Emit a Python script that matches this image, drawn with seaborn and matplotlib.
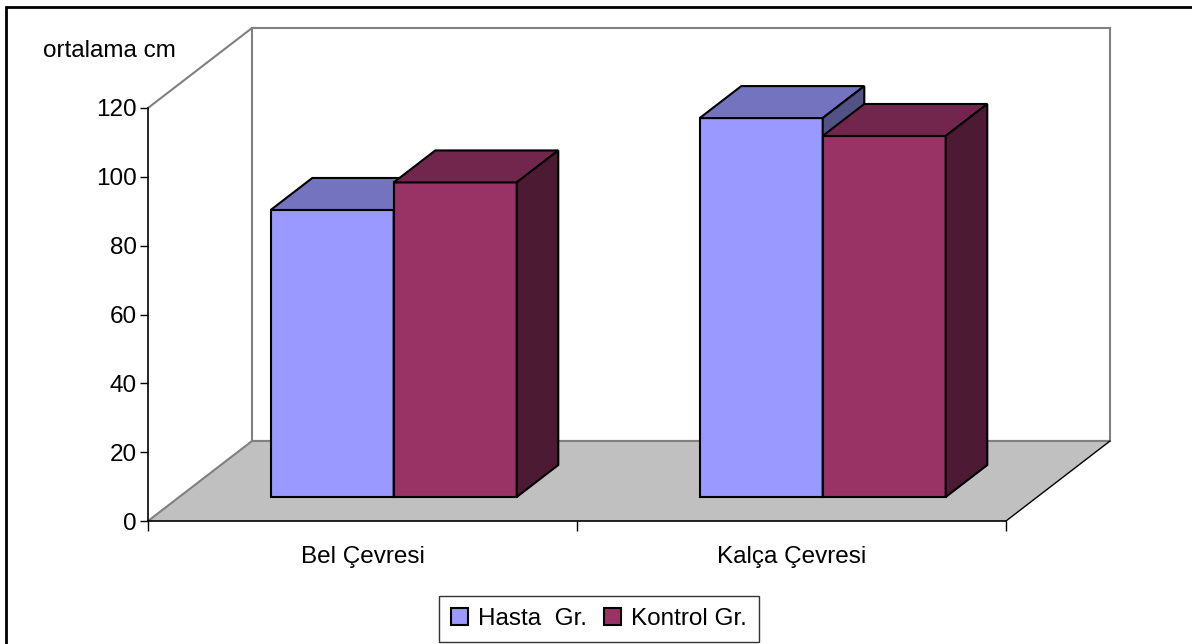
import seaborn as sns
import matplotlib.pyplot as plt
import pandas as pd
from matplotlib.patches import Polygon, Rectangle, Patch

# data
bolgeler = ['Bel Çevresi', 'Kalça Çevresi']
gruplar = ['Hasta  Gr.', 'Kontrol Gr.']
hasta = [83.4, 110.1]
kontrol = [91.4, 104.9]
yticks = [0, 20, 40, 60, 80, 100, 120]

renk_on = ['#9999FF', '#993366']     # front faces
renk_ust = ['#7373BF', '#73264D']    # tops
renk_yan = ['#525285', '#4D1A33']    # sides

df = pd.DataFrame({
    'bolge': bolgeler * 2,
    'grup': [gruplar[0]] * 2 + [gruplar[1]] * 2,
    'deger': hasta + kontrol,
})

sns.set_style('white')
plt.rcParams['font.family'] = ['Liberation Sans', 'DejaVu Sans']
plt.rcParams['text.color'] = 'black'
plt.rcParams['xtick.color'] = 'black'
plt.rcParams['ytick.color'] = 'black'
FS = 17.5

fig = plt.figure(figsize=(11.92, 6.44), dpi=100)
ax = fig.add_axes([148 / 1192, 123 / 644, 858 / 1192, 413 / 644])

# oblique depth of the box, in data units
DX = 0.2424
DY = 23.24
GRAY = '#808080'

# back wall, floor, left wall edge
ax.add_patch(Rectangle((-0.5 + DX, DY), 2, 120, facecolor='white', edgecolor=GRAY,
                       lw=1.5, clip_on=False, zorder=0.5))
ax.add_patch(Polygon([(-0.5, 0), (1.5, 0), (1.5 + DX, DY), (-0.5 + DX, DY)],
                     closed=True, facecolor='#C0C0C0', edgecolor='none', clip_on=False, zorder=0.6))
ax.plot([-0.5, -0.5 + DX], [0, DY], color=GRAY, lw=1.5, clip_on=False, zorder=0.7)
ax.plot([-0.5, -0.5 + DX], [120, 120 + DY], color=GRAY, lw=1.5, clip_on=False, zorder=0.7)
ax.plot([-0.5 + DX, 1.5 + DX], [DY, DY], color=GRAY, lw=1.5, clip_on=False, zorder=0.7)
ax.plot([1.5, 1.5 + DX], [0, DY], color='black', lw=1, clip_on=False, zorder=0.7)

sns.barplot(data=df, x='bolge', y='deger', hue='grup', hue_order=gruplar,
            palette=renk_on, saturation=1, width=0.5734, edgecolor='black', linewidth=1.5,
            legend=False, ax=ax)

# push bars back into the box and give them top/side faces
fx, fy = 0.3 * DX, 0.3 * DY
bx, by = 0.4 * DX, 0.4 * DY
for g, cont in enumerate(ax.containers):
    z = 3 + g
    for p in cont.patches:
        x0 = p.get_x() + fx
        w = p.get_width()
        h = p.get_height()
        p.set_x(x0)
        p.set_y(fy)
        p.set_zorder(z)
        p.set_clip_on(False)
        y1 = fy + h
        ax.add_patch(Polygon([(x0, y1), (x0 + w, y1), (x0 + w + bx, y1 + by), (x0 + bx, y1 + by)],
                             closed=True, facecolor=renk_ust[g], edgecolor='black', lw=1.5,
                             clip_on=False, zorder=z))
        ax.add_patch(Polygon([(x0 + w, fy), (x0 + w, y1), (x0 + w + bx, y1 + by), (x0 + w + bx, fy + by)],
                             closed=True, facecolor=renk_yan[g], edgecolor='black', lw=1.5,
                             clip_on=False, zorder=z))

ax.set_xlim(-0.5, 1.5)
ax.set_ylim(0, 120)
ax.set_yticks(yticks)
ax.set_xticks([-0.5, 0.5, 1.5])
ax.set_xticklabels([])
ax.set_xticks([0, 1], minor=True)
ax.set_xticklabels(bolgeler, minor=True, fontsize=FS)
ax.tick_params(axis='x', which='minor', bottom=True, length=0, pad=18)
ax.tick_params(axis='x', which='major', bottom=True, length=7, width=1, direction='out')
ax.tick_params(axis='y', left=True, length=6, width=1, direction='out', labelsize=FS, pad=2)
ax.set_xlabel('')
ax.set_ylabel('')
ax.patch.set_alpha(0)
for s in ['top', 'right']:
    ax.spines[s].set_visible(False)
for s in ['left', 'bottom']:
    ax.spines[s].set_color('black')
    ax.spines[s].set_linewidth(1.2)
    ax.spines[s].set_zorder(5)

fig.text(109 / 1192, 1 - 51 / 644, 'ortalama cm', fontsize=FS, ha='center', va='center')

handles = [Patch(facecolor=c, edgecolor='black', lw=1.5) for c in renk_on]
leg = fig.legend(handles, gruplar, loc='center', bbox_to_anchor=(599 / 1192, 1 - 619 / 644),
                 ncol=2, frameon=True, fancybox=False, edgecolor='black', fontsize=FS,
                 handlelength=0.7, handleheight=0.7, handletextpad=0.4, columnspacing=0.7,
                 borderpad=0.5)
leg.get_frame().set_linewidth(1)

# outer chart border (runs off the right and bottom edges)
fig.add_artist(Rectangle((6 / 1192, -0.1), 1.2, 1.1 - 7 / 644, transform=fig.transFigure,
                         fill=False, edgecolor='black', lw=2))

fig.savefig('out.png', dpi=100)
